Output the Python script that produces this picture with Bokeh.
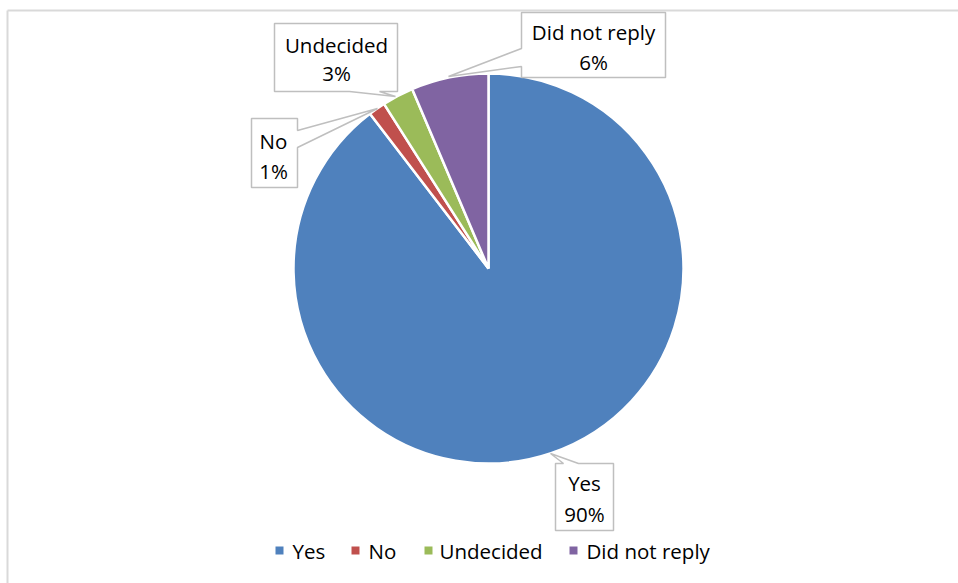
import math
from bokeh.plotting import figure
from bokeh.models import Range1d, ColumnDataSource
from bokeh.embed import file_html
from bokeh.resources import INLINE
from bokeh.core.properties import value

# ---- data ----
categories = ["Yes", "No", "Undecided", "Did not reply"]
shares = [89.6, 1.4, 2.6, 6.4]
colors = ["#4F81BD", "#C0504D", "#9BBB59", "#8064A2"]

W, H = 958, 583
FONT = "Open Sans"
FS = "20.5px"


def Y(py):
    return H - py


p = figure(width=W, height=H, x_range=Range1d(0, W), y_range=Range1d(0, H),
           output_backend="svg", toolbar_location=None, min_border=0)
p.axis.visible = False
p.grid.visible = False
p.outline_line_color = None
p.background_fill_color = "white"
p.border_fill_color = "white"

# chart-area border (top and left visible)
p.line(x=[7, 7], y=[Y(H), Y(10)], line_color="#D9D9D9", line_width=2)
p.line(x=[7, W], y=[Y(10), Y(10)], line_color="#D9D9D9", line_width=2)

# ---- pie ----
cx, cy, R = 488, Y(268), 195
total = sum(shares)
starts, ends = [], []
acc = 0.0
for s in shares:
    starts.append(math.pi / 2 - 2 * math.pi * acc / total)
    acc += s
    ends.append(math.pi / 2 - 2 * math.pi * acc / total)

src = ColumnDataSource(dict(cat=categories, start=starts, end=ends, color=colors))
p.wedge(x=cx, y=cy, radius=R, start_angle="start", end_angle="end",
        direction="clock", fill_color="color", line_color="white",
        line_width=2.5, source=src)

# ---- callouts ----
callouts = {
    "Did not reply": dict(poly=[(521, 12), (665, 12), (665, 77), (521, 77), (521, 66), (448, 76), (521, 48)],
                          cx=593, y1=31, y2=61),
    "Undecided": dict(poly=[(274, 23), (397, 23), (397, 91), (379, 91), (395, 96), (349, 91), (274, 91)],
                      cx=336, y1=44, y2=72),
    "No": dict(poly=[(251, 118), (297, 118), (297, 130), (377, 108), (297, 147), (297, 187), (251, 187)],
               cx=273, y1=140, y2=170),
    "Yes": dict(poly=[(555, 463), (563, 463), (550, 453), (578, 463), (613, 463), (613, 530), (555, 530)],
                cx=584, y1=482, y2=513),
}

for cat, s in zip(categories, shares):
    c = callouts[cat]
    xs = [pt[0] for pt in c["poly"]]
    ys = [Y(pt[1]) for pt in c["poly"]]
    p.patch(x=xs, y=ys, fill_color="white", line_color="#BFBFBF", line_width=1.5)
    p.text(x=[c["cx"], c["cx"]], y=[Y(c["y1"]), Y(c["y2"])],
           text=[cat, f"{round(s)}%"], text_font=value(FONT), text_font_size=FS,
           text_align="center", text_baseline="middle", text_color="#000000")

# ---- legend (manual) ----
leg_marker_x = [279, 355, 428, 573]
leg_text_x = [292, 368, 439, 586]
leg_y = Y(550)
p.scatter(x=leg_marker_x, y=[leg_y] * 4, marker="square", size=8,
          fill_color=colors, line_color=None)
p.text(x=leg_text_x, y=[leg_y] * 4, text=categories, text_font=value(FONT),
       text_font_size=FS, text_align="left", text_baseline="middle",
       text_color="#000000")

open("out.html", "w").write(file_html(p, INLINE))
